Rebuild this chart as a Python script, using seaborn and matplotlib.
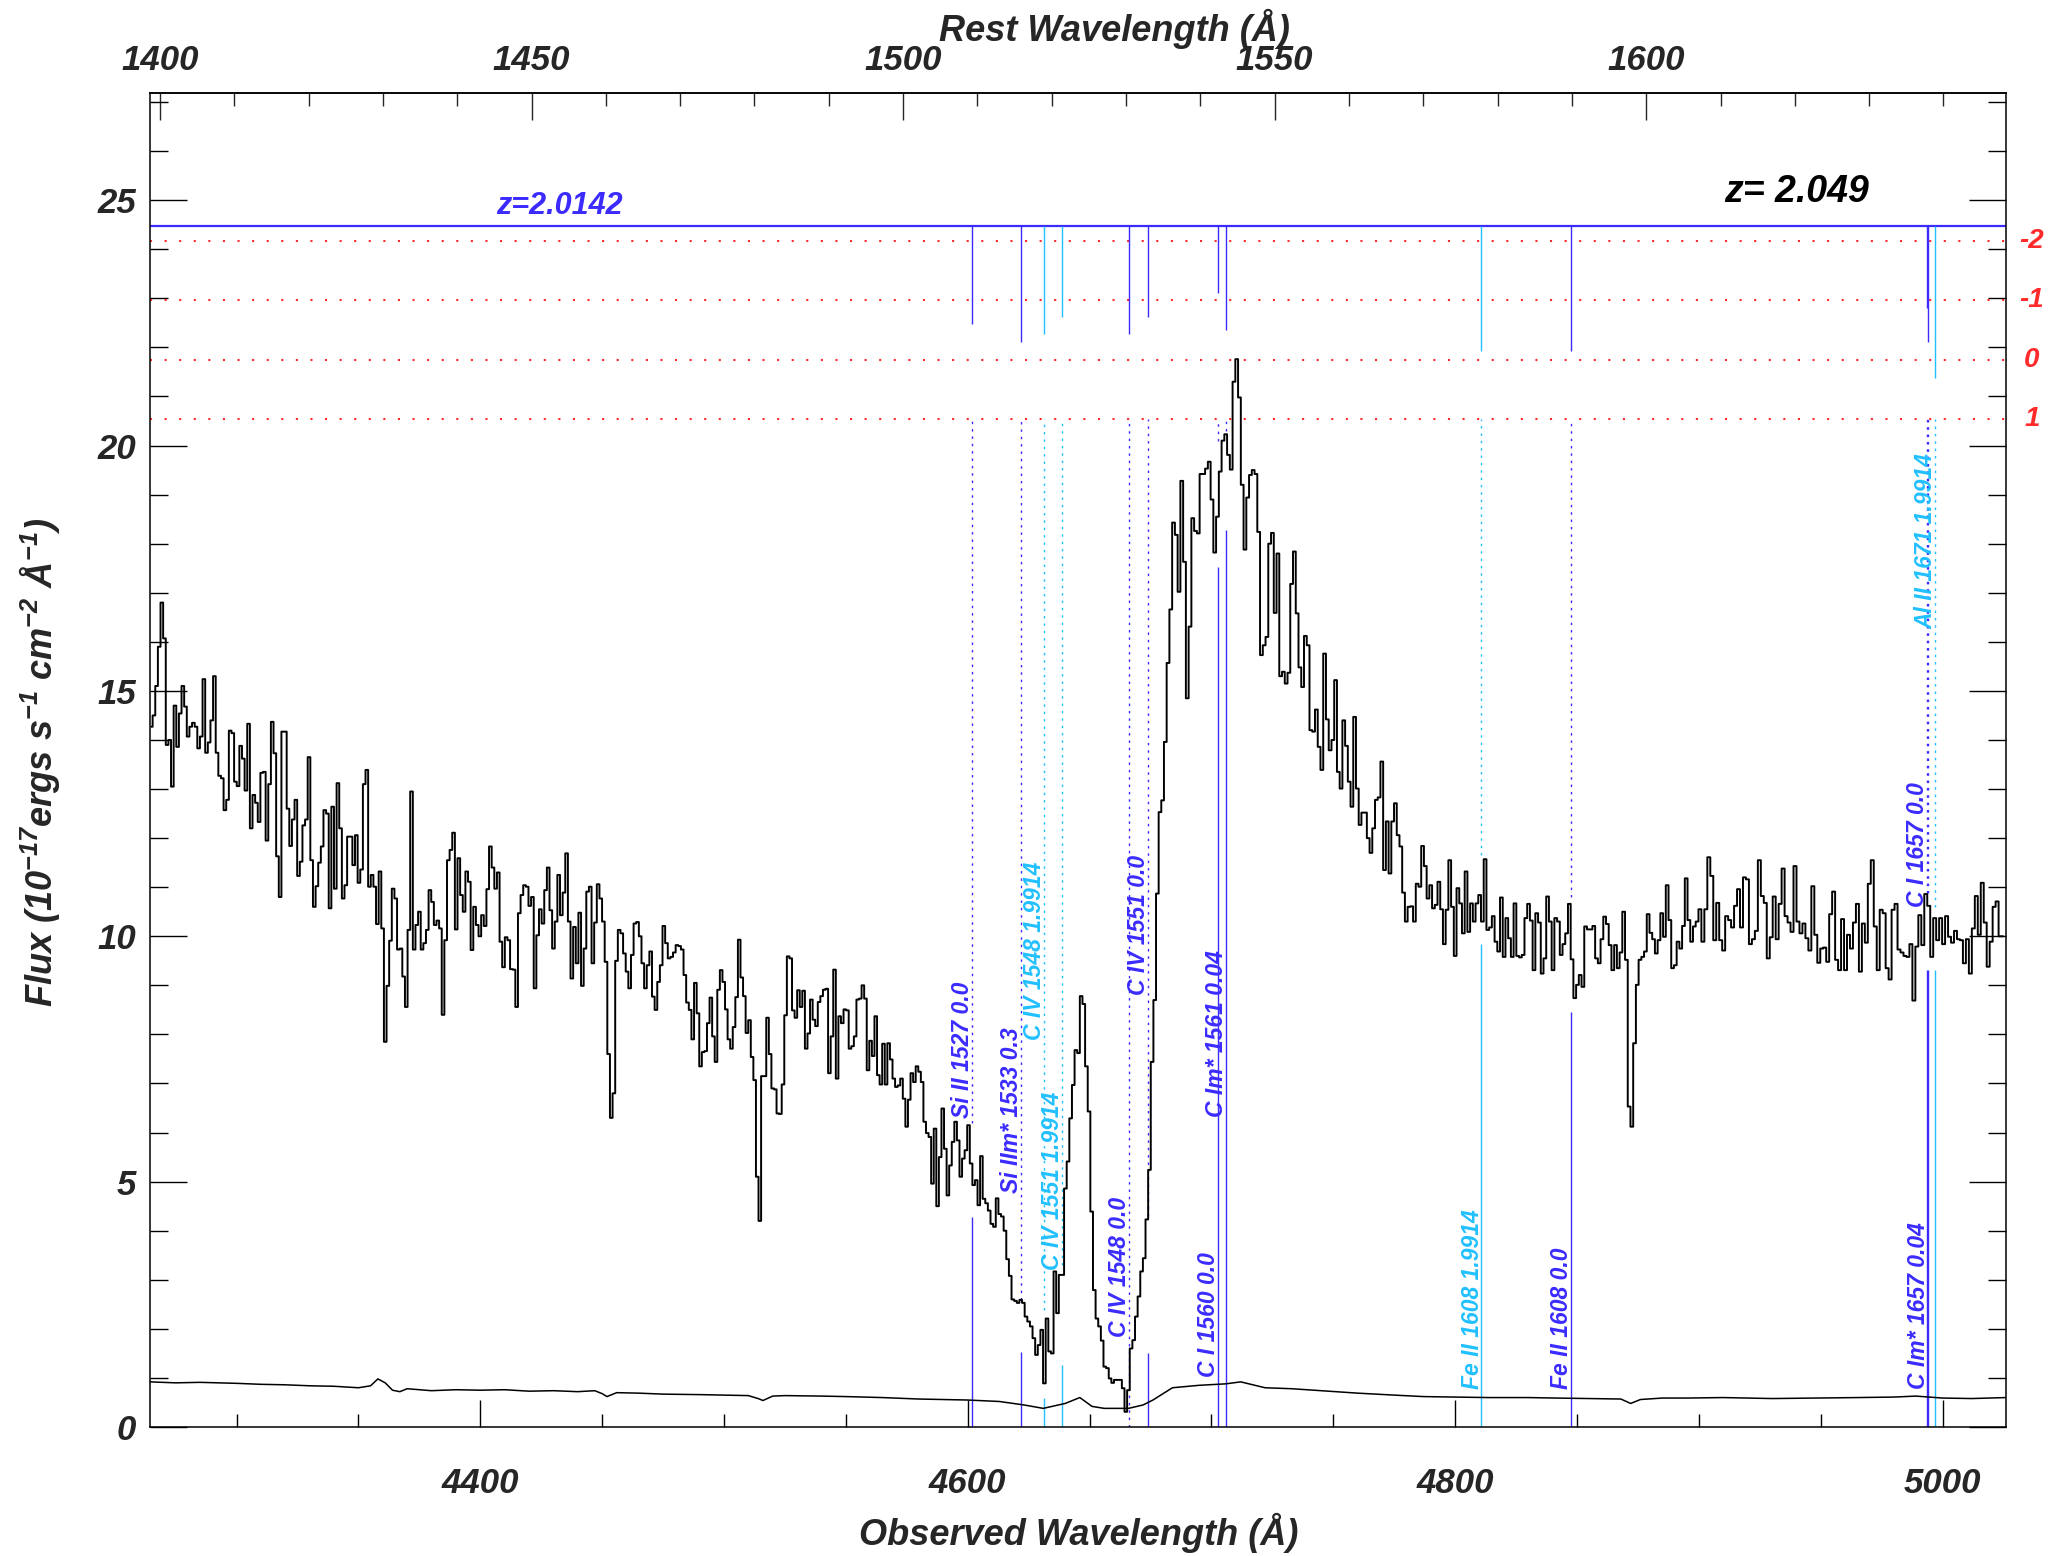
"""Quasar spectrum with absorption-line markers (seaborn + matplotlib)."""

import numpy as np
import matplotlib
matplotlib.use("Agg")
import matplotlib.pyplot as plt
import matplotlib.ticker as mtick
import matplotlib.transforms as mtrans
import seaborn as sns

BLUE = "#3b2bff"
CYAN = "#22c0ff"
RED = "#ff2b2b"

Z_QSO = 2.049
XMIN, XMAX = 4264.5, 5026.0
YMIN, YMAX = 0.0, 27.19

# spectrum in pieces: (first, last observed wavelength) + flux
EDGES_A = (4264.5, 4488.8)
FLUX_A = [14.27, 14.5, 15.1, 15.9, 16.8, 16.07, 13.9, 14.0, 13.05, 14.7,
          13.86, 14.54, 15.1, 14.68, 14.07, 14.27, 14.35, 14.27, 13.83, 14.07,
          15.24, 13.74, 13.95, 14.4, 15.3, 13.74, 13.27, 13.22, 12.57, 12.78,
          14.19, 14.14, 13.15, 13.06, 13.88, 13.62, 12.97, 14.33, 12.2, 12.88,
          12.72, 12.33, 13.33, 13.35, 11.95, 13.1, 14.37, 13.73, 11.63, 10.8,
          14.17, 14.17, 12.6, 11.84, 12.38, 12.78, 11.23, 11.52, 12.26, 12.38,
          13.65, 11.55, 10.6, 11.02, 11.5, 11.83, 12.57, 12.5, 10.57, 12.64,
          10.97, 13.12, 12.2, 10.77, 11.04, 12.03, 12.03, 11.45, 12.06, 11.09,
          11.36, 13.1, 13.39, 11.01, 11.25, 11.01, 10.25, 11.32, 10.16, 7.85,
          8.99, 9.91, 10.97, 10.77, 9.73, 9.75, 9.18, 8.56, 10.13, 12.95,
          9.73, 10.23, 10.5, 9.73, 9.86, 10.13, 10.94, 10.7, 10.23, 10.32,
          10.16, 8.4, 9.92, 11.55, 11.76, 12.11, 10.14, 11.59, 10.84, 10.5,
          11.32, 11.11, 9.72, 10.6, 10.23, 10.0, 10.43, 10.21, 10.96, 11.83,
          11.4, 10.97, 11.3, 9.89, 9.37, 9.98, 9.92, 9.33, 9.32, 8.56,
          10.47, 10.84, 11.04, 11.01, 10.62, 10.8, 8.94, 10.02, 10.55, 10.26,
          10.94, 11.4, 10.53, 9.75, 10.3, 11.25, 10.43, 10.89, 11.69, 10.3,
          9.14, 10.19, 9.45, 10.48, 8.99, 9.75, 10.91, 11.01, 9.45, 10.28,
          11.06, 10.77, 10.3, 9.48, 7.6, 6.3, 6.8, 9.5, 10.13, 10.06,
          9.65, 9.28, 8.94, 9.62, 10.26, 10.29, 10.0, 9.45, 8.94, 9.41,
          9.69, 8.77, 8.5, 9.07, 9.41, 10.21, 9.86, 9.55, 9.58, 9.67,
          9.82, 9.8, 9.73, 9.21, 8.65, 8.5, 7.9, 9.05]

EDGES_B = (4488.8, 4607.2)
FLUX_B = [8.43, 7.35, 7.64, 7.66, 8.23, 8.75, 7.96, 7.44, 8.91, 9.31,
          9.07, 8.51, 7.9, 7.71, 8.15, 8.76, 9.93, 9.16, 8.78, 8.03,
          8.29, 7.54, 7.07, 5.1, 4.2, 7.15, 7.15, 8.34, 7.6, 6.9,
          6.88, 6.39, 6.38, 6.98, 8.39, 9.59, 9.55, 8.49, 8.34, 8.9,
          8.56, 8.89, 7.71, 8.02, 8.71, 8.3, 8.17, 8.66, 8.78, 8.91,
          8.93, 7.21, 7.96, 9.32, 7.1, 8.37, 8.23, 8.51, 8.49, 7.71,
          7.76, 7.96, 8.71, 8.73, 9.0, 8.73, 7.27, 7.87, 7.56, 8.37,
          7.17, 6.98, 7.81, 6.98, 7.82, 7.49, 7.1, 6.93, 6.96, 7.1,
          6.69, 6.12, 6.67, 7.21, 7.03, 7.35, 7.24, 7.03, 6.22, 5.99,
          5.91, 4.96, 6.08, 4.5, 5.5, 6.49, 5.67, 4.72, 5.33, 5.81,
          6.22, 5.84, 5.1, 5.47, 5.64, 6.15, 5.37, 4.93, 5.03, 4.52,
          5.52, 4.65]

EDGES_C = (4607.2, 4680.5)
FLUX_C = [4.56, 4.41, 4.14, 4.08, 4.66, 4.34, 4.29, 4.0, 3.42, 3.08,
          2.6, 2.57, 2.53, 2.59, 2.53, 2.25, 2.15, 2.05, 1.81, 1.47,
          1.67, 1.98, 0.89, 2.21, 1.54, 1.5, 3.17, 2.32, 3.1, 3.1,
          4.86, 5.41, 6.29, 6.97, 7.68, 7.62, 8.78, 8.62, 7.35, 6.43,
          4.39, 2.79, 2.21, 2.05, 1.76, 1.23, 1.2, 0.99, 0.9, 0.96,
          0.96, 0.96, 0.79, 0.31, 0.75, 1.6, 1.77, 2.25, 2.66, 3.17,
          3.44, 4.23, 5.24, 7.44, 8.7, 10.87, 12.53, 12.77]

EDGES_D = (4680.5, 4751.5)
FLUX_D = [13.96, 15.57, 16.66, 18.43, 18.18, 17.02, 19.28, 17.63, 14.85, 16.31,
          18.52, 18.26, 18.21, 19.42, 19.42, 19.53, 19.67, 18.9, 17.82, 18.55,
          19.47, 20.1, 20.23, 19.81, 19.51, 21.3, 21.76, 20.98, 19.2, 17.88,
          18.94, 19.4, 19.5, 19.42, 18.24, 15.73, 15.93, 16.1, 18.0, 18.22,
          16.59, 17.8, 15.3, 15.39, 15.15, 15.37, 17.18, 17.84, 16.58, 15.48,
          15.08, 16.12, 15.93, 14.2, 14.17, 14.62, 13.86, 13.39, 15.76, 14.42,
          13.79, 14.0, 15.22]

EDGES_E = (4751.5, 4899.8)
FLUX_E = [13.35, 13.01, 14.4, 13.88, 13.15, 12.64, 14.47, 13.01, 12.27, 12.52,
          12.52, 12.0, 11.7, 12.2, 12.78, 12.83, 13.56, 11.35, 12.34, 11.28,
          12.34, 12.71, 12.06, 11.83, 10.89, 10.3, 10.6, 10.61, 10.3, 11.07,
          11.01, 11.84, 11.43, 10.77, 11.04, 10.57, 10.64, 11.11, 10.55, 9.84,
          10.54, 11.55, 10.6, 9.6, 10.98, 10.67, 10.06, 11.32, 10.09, 10.67,
          10.3, 10.67, 10.84, 10.3, 11.57, 10.13, 10.18, 10.41, 9.89, 9.69,
          10.79, 9.58, 10.37, 9.96, 9.58, 10.67, 9.6, 9.57, 9.62, 10.37,
          10.66, 10.32, 9.31, 10.47, 10.28, 9.24, 9.55, 10.81, 10.3, 9.31,
          10.37, 10.3, 9.62, 9.84, 10.06, 10.66, 9.53, 8.74, 9.01, 9.21,
          8.97, 10.2, 10.14, 10.14, 10.21, 9.55, 9.45, 9.94, 10.4, 10.25,
          9.82, 9.31, 9.82, 9.35, 9.67, 10.5, 9.52, 6.53, 6.12, 7.82,
          9.01, 9.52, 9.58, 9.69, 10.45, 10.07, 9.94, 9.65, 9.92, 10.47,
          9.99, 11.04, 10.33, 9.35, 9.41, 9.89, 9.75, 10.21, 11.18, 10.33,
          9.89, 10.2, 10.3]

EDGES_F = (4899.8, 5025.4)
FLUX_F = [10.55, 9.89, 10.55, 11.61, 11.23, 9.92, 10.68, 9.92, 9.71, 10.41,
          10.33, 10.18, 10.62, 10.96, 10.18, 11.2, 11.16, 9.84, 9.94, 10.11,
          11.55, 10.82, 10.68, 9.55, 9.98, 10.81, 9.94, 10.66, 11.38, 10.41,
          10.28, 10.09, 11.43, 10.3, 10.06, 10.26, 9.96, 9.71, 11.02, 10.03,
          9.46, 9.75, 9.77, 9.48, 10.45, 10.91, 9.52, 9.31, 10.35, 9.31,
          10.03, 9.75, 10.28, 10.66, 9.28, 10.26, 9.87, 11.07, 11.55, 10.2,
          9.31, 10.54, 10.47, 9.35, 9.12, 10.54, 10.66, 9.73, 9.67, 9.6,
          9.58, 9.84, 8.69, 9.79, 10.43, 9.82, 10.86, 10.62, 9.58, 10.37,
          9.92, 10.37, 9.84, 10.41, 9.99, 9.87, 10.11, 9.94, 9.92, 9.45,
          9.94, 9.24, 10.16, 10.82, 10.03, 11.09, 10.28, 9.38, 9.89, 10.6,
          10.71, 10.0, 10.0]

# error spectrum
ERR_WAVE = [4264.5, 4275, 4285, 4300, 4310, 4320, 4330, 4340, 4350, 4355,
            4358, 4361, 4364, 4367, 4370, 4380, 4390, 4400, 4410, 4420,
            4430, 4440, 4447, 4450, 4452, 4456, 4465, 4475, 4490, 4500,
            4510, 4514, 4516, 4520, 4525, 4540, 4550, 4565, 4580, 4600,
            4613, 4623, 4631, 4640, 4646, 4651, 4656, 4666, 4672, 4676,
            4684, 4695, 4706, 4712, 4722, 4733, 4745, 4760, 4775, 4787,
            4800, 4814, 4830, 4841, 4855, 4868, 4872, 4876, 4885, 4895,
            4910, 4930, 4948, 4965, 4980, 4989, 5000, 5012, 5026]
ERR_FLUX = [0.92, 0.90, 0.91, 0.89, 0.87, 0.86, 0.84, 0.83, 0.80, 0.84,
            0.98, 0.90, 0.75, 0.72, 0.78, 0.74, 0.76, 0.75, 0.76, 0.73,
            0.74, 0.72, 0.74, 0.68, 0.62, 0.70, 0.69, 0.67, 0.66, 0.65,
            0.64, 0.58, 0.54, 0.63, 0.64, 0.63, 0.62, 0.60, 0.57, 0.55,
            0.52, 0.45, 0.38, 0.48, 0.60, 0.42, 0.38, 0.38, 0.45, 0.55,
            0.80, 0.85, 0.88, 0.92, 0.80, 0.78, 0.74, 0.69, 0.65, 0.62,
            0.61, 0.60, 0.60, 0.59, 0.58, 0.57, 0.48, 0.56, 0.59, 0.59,
            0.60, 0.58, 0.59, 0.60, 0.61, 0.63, 0.59, 0.58, 0.60]

# absorption line identifications
LINE_LABELS = ["Si II 1527 0.0", "Si IIm* 1533 0.3", "C IV 1548 1.9914",
               "C IV 1551 1.9914", "C IV 1548 0.0", "C IV 1551 0.0",
               "C I 1560 0.0", "C Im* 1561 0.04", "Fe II 1608 1.9914",
               "Fe II 1608 0.0", "C I 1657 0.0", "C Im* 1657 0.04",
               "Al II 1671 1.9914"]
LINE_OBS = [4601.6, 4621.8, 4631.1, 4638.6, 4666.1, 4673.9, 4702.8, 4706.0,
            4810.8, 4847.5, 4993.5, 4993.9, 4997.0]
LINE_SYSTEM = ["2.0142", "2.0142", "1.9914", "1.9914", "2.0142", "2.0142",
               "2.0142", "2.0142", "1.9914", "2.0142", "2.0142", "2.0142",
               "1.9914"]
TICK_END = [22.47, 22.1, 22.27, 22.62, 22.27, 22.62, 23.1, 22.35, 21.93,
            21.93, 22.8, 22.1, 21.37]
DOT_END = [6.19, 2.59, 2.38, 3.3, 0.0, 4.29, 20.1, 20.3, 11.65, 10.8,
           10.88, 10.88, 10.6]
SOLID_TOP = [4.27, 1.53, 0.60, 1.26, 0.0, 1.51, 17.53, 18.28, 9.84, 8.46,
             9.31, 9.31, 9.31]
LABEL_Y = [6.3, 4.77, 7.89, 3.2, 1.84, 8.8, 1.02, 6.32, 0.77, 0.77, 10.6,
           0.77, 16.27]

SYSTEM_LINE_Y = 24.47
SIGMA_LEVELS = [24.17, 22.96, 21.75, 20.54]
SIGMA_LABELS = ["-2", "-1", "0", "1"]


def bin_centers(edges, values):
    lo, hi = edges
    e = np.linspace(lo, hi, len(values) + 1)
    return 0.5 * (e[:-1] + e[1:])


sns.set_style("ticks")
plt.rcParams["font.family"] = ["Liberation Sans", "DejaVu Sans"]
plt.rcParams["font.weight"] = "bold"
plt.rcParams["font.style"] = "italic"
plt.rcParams["mathtext.fontset"] = "custom"
plt.rcParams["mathtext.rm"] = "Liberation Sans:italic:bold"
plt.rcParams["mathtext.it"] = "Liberation Sans:italic:bold"
plt.rcParams["mathtext.bf"] = "Liberation Sans:italic:bold"
plt.rcParams["axes.linewidth"] = 1.1
plt.rcParams["axes.edgecolor"] = "black"

pieces = [(EDGES_A, FLUX_A), (EDGES_B, FLUX_B), (EDGES_C, FLUX_C),
          (EDGES_D, FLUX_D), (EDGES_E, FLUX_E), (EDGES_F, FLUX_F)]
wave = np.concatenate([bin_centers(e, f) for e, f in pieces])
flux = np.concatenate([np.asarray(f, dtype=float) for _, f in pieces])

fig = plt.figure(figsize=(20.61, 15.56), dpi=100)
ax = fig.add_axes([0.07278, 0.08290, 0.90053, 0.85752])

sns.lineplot(x=wave, y=flux, ax=ax, color="black", linewidth=1.4,
             drawstyle="steps-mid", estimator=None, sort=False, zorder=3)
sns.lineplot(x=ERR_WAVE, y=ERR_FLUX, ax=ax, color="black", linewidth=1.1,
             estimator=None, sort=False, zorder=3)

# system line and sigma levels
ax.axhline(SYSTEM_LINE_Y, color=BLUE, linewidth=1.6, zorder=2)
sig_tr = mtrans.blended_transform_factory(ax.transAxes, ax.transData)
for lev, lab in zip(SIGMA_LEVELS, SIGMA_LABELS):
    ax.axhline(lev, color=RED, linewidth=1.5, linestyle=(0, (1, 6)), zorder=2)
    ax.text(1.014, lev, lab, transform=sig_tr, color=RED, fontsize=20,
            ha="center", va="center", clip_on=False)

# line markers
for lab, w, sysz, t_end, d_end, s_top, ly in zip(
        LINE_LABELS, LINE_OBS, LINE_SYSTEM, TICK_END, DOT_END, SOLID_TOP, LABEL_Y):
    c = BLUE if sysz == "2.0142" else CYAN
    ax.vlines(w, t_end, SYSTEM_LINE_Y, color=c, linewidth=1.0, zorder=2)
    ax.vlines(w, d_end, SIGMA_LEVELS[-1], color=c, linewidth=1.0,
              linestyle=(0, (1.8, 3.5)), zorder=2)
    if s_top > 0:
        ax.vlines(w, 0, s_top, color=c, linewidth=1.0, zorder=2)
    ax.annotate(lab, xy=(w, ly), xytext=(1.5, 0), textcoords="offset points",
                rotation=90, ha="right", va="bottom", fontsize=16.5, color=c,
                zorder=4)

ax.text(4432.5, 24.88, "z=2.0142", color=BLUE, fontsize=22,
        ha="center", va="center")
ax.text(4940.0, 25.16, "z= 2.049", color="black", fontsize=27,
        ha="center", va="center")

ax.set_xlim(XMIN, XMAX)
ax.set_ylim(YMIN, YMAX)
ax.set_xlabel("")
ax.set_ylabel("")

ax.xaxis.set_major_locator(mtick.MultipleLocator(200))
ax.xaxis.set_minor_locator(mtick.MultipleLocator(50))
ax.yaxis.set_major_locator(mtick.MultipleLocator(5))
ax.yaxis.set_minor_locator(mtick.MultipleLocator(1))
ax.tick_params(which="both", direction="in", top=False, right=True,
               labelsize=25, width=1.0, color="black")
ax.tick_params(axis="x", which="major", length=19.5, pad=29)
ax.tick_params(axis="x", which="minor", length=9.5)
ax.tick_params(axis="y", which="major", length=26.5, pad=10)
ax.tick_params(axis="y", which="minor", length=13)

secax = ax.secondary_xaxis("top", functions=(lambda x: x / (1 + Z_QSO),
                                             lambda x: x * (1 + Z_QSO)))
secax.xaxis.set_major_locator(mtick.MultipleLocator(50))
secax.xaxis.set_minor_locator(mtick.MultipleLocator(10))
secax.tick_params(which="both", direction="in", labelsize=25, width=1.0)
secax.tick_params(which="major", length=19.5, pad=11)
secax.tick_params(which="minor", length=9.5)

fig.text(0.5405, 0.9815, "Rest Wavelength (Å)", fontsize=26,
         ha="center", va="center")
fig.text(0.5235, 0.0148, "Observed Wavelength (Å)", fontsize=26,
         ha="center", va="center")
fig.text(0.0194, 0.5097,
         r"Flux (10$^{-17}$ergs s$^{-1}$ cm$^{-2}$ Å$^{-1}$)",
         fontsize=26, rotation=90, ha="center", va="center")

fig.savefig("out.png", dpi=100)
